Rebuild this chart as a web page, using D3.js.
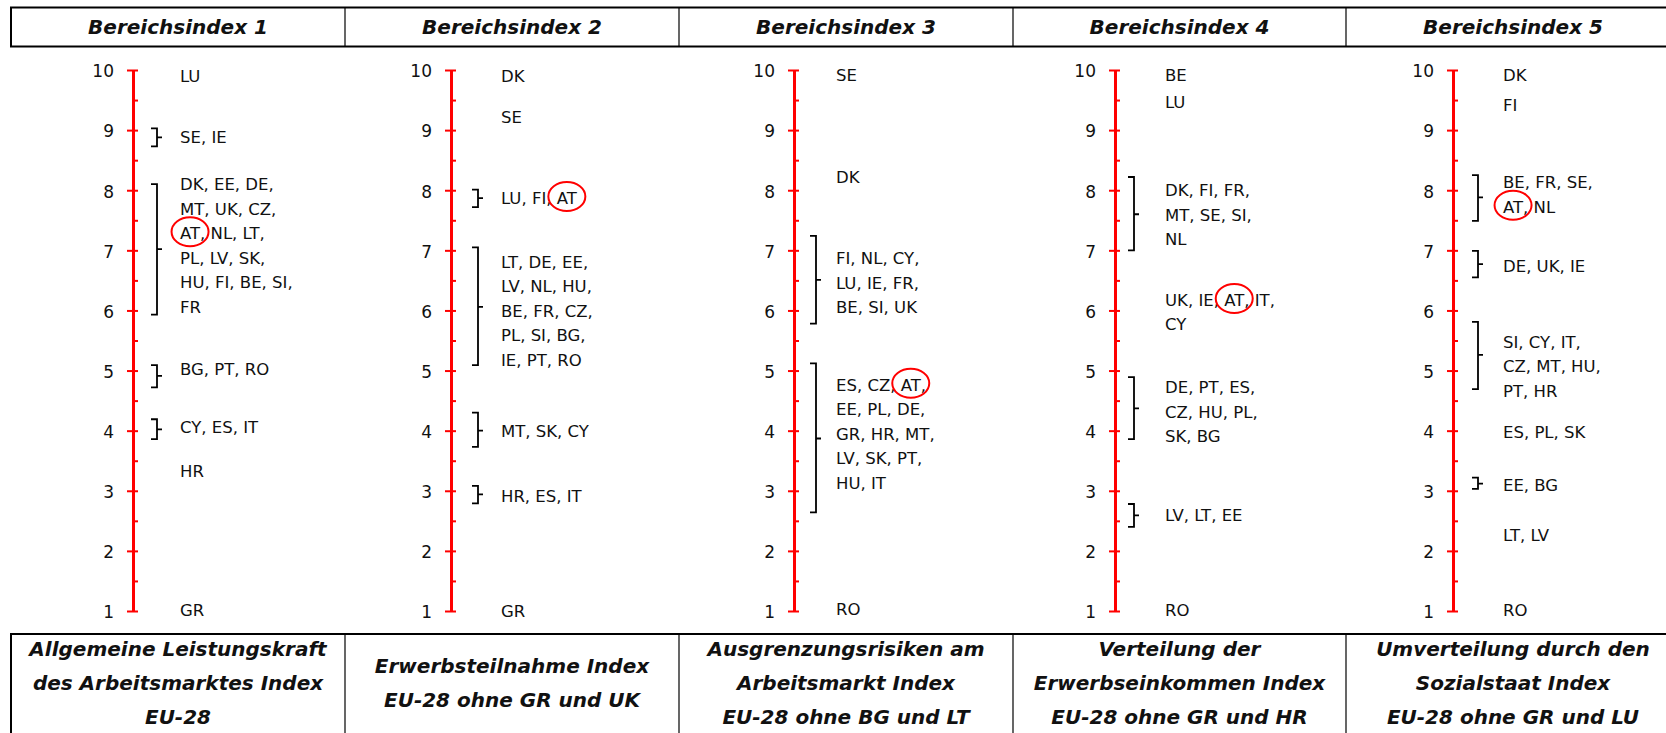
<!DOCTYPE html>
<html><head><meta charset="utf-8">
<script src="https://cdn.jsdelivr.net/npm/d3@7"></script>
<style>body{margin:0;background:#fff;overflow:hidden}</style>
</head><body><svg id="c" width="1666" height="733"></svg>
<script>
// ---------- DATA ----------
const ticks = [1, 2, 3, 4, 5, 6, 7, 8, 9, 10];
const titles = ["Bereichsindex 1", "Bereichsindex 2", "Bereichsindex 3", "Bereichsindex 4", "Bereichsindex 5"];
const footers = [
  ["Allgemeine Leistungskraft", "des Arbeitsmarktes Index", "EU-28"],
  ["Erwerbsteilnahme Index", "EU-28 ohne GR und UK"],
  ["Ausgrenzungsrisiken am", "Arbeitsmarkt Index", "EU-28 ohne BG und LT"],
  ["Verteilung der", "Erwerbseinkommen Index", "EU-28 ohne GR und HR"],
  ["Umverteilung durch den", "Sozialstaat Index", "EU-28 ohne GR und LU"]
];
const highlight = "AT";

const labels1 = [
  { lines: ["LU"], v: 9.90 },
  { lines: ["SE, IE"], v: 8.89 },
  { lines: ["DK, EE, DE,", "MT, UK, CZ,", "AT, NL, LT,", "PL, LV, SK,", "HU, FI, BE, SI,", "FR"], v: 7.08 },
  { lines: ["BG, PT, RO"], v: 5.03 },
  { lines: ["CY, ES, IT"], v: 4.06 },
  { lines: ["HR"], v: 3.32 },
  { lines: ["GR"], v: 1.02 }
];
const brackets1 = [
  { top: 9.03, bottom: 8.73, tip: 8.88 },
  { top: 8.10, bottom: 5.93, tip: 7.02 },
  { top: 5.09, bottom: 4.72, tip: 4.91 },
  { top: 4.19, bottom: 3.86, tip: 4.02 }
];

const labels2 = [
  { lines: ["DK"], v: 9.90 },
  { lines: ["SE"], v: 9.22 },
  { lines: ["LU, FI, AT"], v: 7.87 },
  { lines: ["LT, DE, EE,", "LV, NL, HU,", "BE, FR, CZ,", "PL, SI, BG,", "IE, PT, RO"], v: 5.99 },
  { lines: ["MT, SK, CY"], v: 4.00 },
  { lines: ["HR, ES, IT"], v: 2.92 },
  { lines: ["GR"], v: 1.00 }
];
const brackets2 = [
  { top: 8.01, bottom: 7.72, tip: 7.87 },
  { top: 7.05, bottom: 5.09, tip: 6.06 },
  { top: 4.30, bottom: 3.73, tip: 4.00 },
  { top: 3.08, bottom: 2.79, tip: 2.94 }
];

const labels3 = [
  { lines: ["SE"], v: 9.91 },
  { lines: ["DK"], v: 8.22 },
  { lines: ["FI, NL, CY,", "LU, IE, FR,", "BE, SI, UK"], v: 6.46 },
  { lines: ["ES, CZ, AT,", "EE, PL, DE,", "GR, HR, MT,", "LV, SK, PT,", "HU, IT"], v: 3.95 },
  { lines: ["RO"], v: 1.03 }
];
const brackets3 = [
  { top: 7.24, bottom: 5.78, tip: 6.51 },
  { top: 5.12, bottom: 2.64, tip: 3.87 }
];

const labels4 = [
  { lines: ["BE"], v: 9.91 },
  { lines: ["LU"], v: 9.46 },
  { lines: ["DK, FI, FR,", "MT, SE, SI,", "NL"], v: 7.59 },
  { lines: ["UK, IE, AT, IT,", "CY"], v: 5.97 },
  { lines: ["DE, PT, ES,", "CZ, HU, PL,", "SK, BG"], v: 4.31 },
  { lines: ["LV, LT, EE"], v: 2.60 },
  { lines: ["RO"], v: 1.01 }
];
const brackets4 = [
  { top: 8.22, bottom: 7.00, tip: 7.60 },
  { top: 4.89, bottom: 3.86, tip: 4.37 },
  { top: 2.78, bottom: 2.40, tip: 2.59 }
];

const labels5 = [
  { lines: ["DK"], v: 9.91 },
  { lines: ["FI"], v: 9.41 },
  { lines: ["BE, FR, SE,", "AT, NL"], v: 7.93 },
  { lines: ["DE, UK, IE"], v: 6.74 },
  { lines: ["SI, CY, IT,", "CZ, MT, HU,", "PT, HR"], v: 5.07 },
  { lines: ["ES, PL, SK"], v: 3.98 },
  { lines: ["EE, BG"], v: 3.09 },
  { lines: ["LT, LV"], v: 2.27 },
  { lines: ["RO"], v: 1.01 }
];
const brackets5 = [
  { top: 8.25, bottom: 7.49, tip: 7.88 },
  { top: 6.99, bottom: 6.55, tip: 6.77 },
  { top: 5.81, bottom: 4.69, tip: 5.26 },
  { top: 3.22, bottom: 3.03, tip: 3.12 }
];

const allLabels = [labels1, labels2, labels3, labels4, labels5];
const allBrackets = [brackets1, brackets2, brackets3, brackets4, brackets5];

// ---------- LAYOUT ----------
const cellEdges = [11, 345, 679, 1013, 1346, 1680];
const axisX = [133, 451, 794, 1115, 1453];
const bracketX = [157, 478, 816, 1134, 1478];
const textX = [180, 501, 836, 1165, 1503];
const FONT = "'DejaVu Sans', 'Liberation Sans', sans-serif";
const lineH = 24.5;
const labelSize = 16.5;

const svg = d3.select("#c");
const y = d3.scaleLinear().domain([1, 10]).range([611, 70]);

// ---------- HEADER BOX ----------
const hTop = 7.5, hBot = 46.5;
svg.append("rect").attr("x", cellEdges[0]).attr("y", hTop)
  .attr("width", cellEdges[5] - cellEdges[0]).attr("height", hBot - hTop)
  .attr("fill", "none").attr("stroke", "#000").attr("stroke-width", 2);
svg.selectAll(".hdiv").data(cellEdges.slice(1, 5)).join("line")
  .attr("x1", d => d).attr("x2", d => d).attr("y1", hTop).attr("y2", hBot)
  .attr("stroke", "#000").attr("stroke-width", 1.2);
svg.selectAll(".htitle").data(titles).join("text")
  .attr("x", (d, i) => (cellEdges[i] + cellEdges[i + 1]) / 2)
  .attr("y", (hTop + hBot) / 2).attr("dy", "0.36em")
  .attr("text-anchor", "middle")
  .attr("font-family", FONT).attr("font-size", 20)
  .attr("font-weight", "bold").attr("font-style", "italic")
  .attr("fill", "#111").text(d => d);

// ---------- FOOTER BOX ----------
const fTop = 634, fBot = 760;
svg.append("rect").attr("x", cellEdges[0]).attr("y", fTop)
  .attr("width", cellEdges[5] - cellEdges[0]).attr("height", fBot - fTop)
  .attr("fill", "none").attr("stroke", "#000").attr("stroke-width", 2);
svg.selectAll(".fdiv").data(cellEdges.slice(1, 5)).join("line")
  .attr("x1", d => d).attr("x2", d => d).attr("y1", fTop).attr("y2", fBot)
  .attr("stroke", "#000").attr("stroke-width", 1.2);
const fCenter = 682.5, fLine = 34;
footers.forEach((lines, i) => {
  const cx = (cellEdges[i] + cellEdges[i + 1]) / 2;
  lines.forEach((t, j) => {
    svg.append("text")
      .attr("x", cx)
      .attr("y", fCenter + (j - (lines.length - 1) / 2) * fLine)
      .attr("dy", "0.36em").attr("text-anchor", "middle")
      .attr("font-family", FONT).attr("font-size", 20)
      .attr("font-weight", "bold").attr("font-style", "italic")
      .attr("fill", "#111").text(t);
  });
});

// ---------- COLUMNS ----------
const halfTicks = ticks.flatMap(t => [t, t + 0.5]).filter(t => t <= 10);

titles.forEach((title, i) => {
  const g = svg.append("g").attr("transform", `translate(${axisX[i]},0)`);

  // minor + right part of major ticks
  const right = g.append("g").call(
    d3.axisRight(y).tickValues(halfTicks).tickSize(5).tickFormat(""));
  right.select(".domain").remove();
  right.selectAll("line").attr("stroke", "#ff0000").attr("stroke-width", 2);

  // main axis with labels
  const left = g.append("g").call(
    d3.axisLeft(y).tickValues(ticks).tickSizeInner(6).tickSizeOuter(0)
      .tickPadding(13).tickFormat(d3.format("d")));
  left.select(".domain").attr("stroke", "#ff0000").attr("stroke-width", 3);
  left.selectAll("line").attr("stroke", "#ff0000").attr("stroke-width", 2);
  left.selectAll("text").attr("font-family", FONT).attr("font-size", 17)
    .attr("fill", "#111").attr("dy", "0.4em");

  // brackets
  const bx = bracketX[i] - axisX[i];
  g.selectAll(".br").data(allBrackets[i]).join("path")
    .attr("d", d => `M${bx - 6},${y(d.top)}H${bx}V${y(d.bottom)}H${bx - 6}M${bx},${y(d.tip)}H${bx + 5}`)
    .attr("fill", "none").attr("stroke", "#000").attr("stroke-width", 1.8);

  // labels
  const tx = textX[i];
  allLabels[i].forEach(lab => {
    const n = lab.lines.length;
    lab.lines.forEach((t, j) => {
      const cy = y(lab.v) + (j - (n - 1) / 2) * lineH;
      const txt = svg.append("text")
        .attr("x", tx).attr("y", cy).attr("dy", "0.36em")
        .attr("font-family", FONT).attr("font-size", labelSize)
        .attr("fill", "#111").text(t);
      const idx = t.split(", ").map(s => s.replace(",", "")).indexOf(highlight);
      if (idx >= 0) {
        const pos = t.indexOf(highlight);
        const node = txt.node();
        const x0 = pos > 0 ? node.getSubStringLength(0, pos) : 0;
        const w = node.getSubStringLength(pos, highlight.length);
        svg.append("ellipse")
          .attr("cx", tx + x0 + w / 2).attr("cy", cy - 1.5)
          .attr("rx", 18.5).attr("ry", 14.5)
          .attr("fill", "none").attr("stroke", "#ff0000").attr("stroke-width", 2);
      }
    });
  });
});
</script>
</body></html>
